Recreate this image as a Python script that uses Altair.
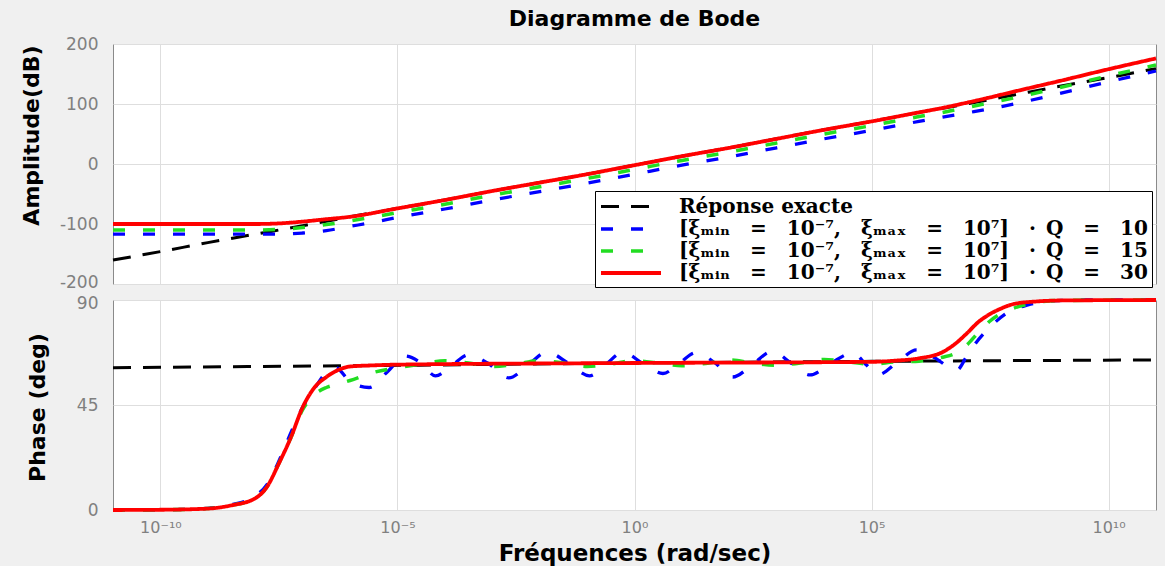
import altair as alt
import pandas as pd

# ---- series -------------------------------------------------------------
EM = "\u2003"
EN = "\u2002"


def approx_label(q):
    return ("[ξₘᵢₙ" + EM + "=" + EM + "10⁻⁷," + EM + "ξₘₐₓ" + EM + "=" + EM + "10⁷]"
            + EM + "·" + EN + "Q" + EM + "=" + EM + q)


SERIES = ["Réponse exacte", approx_label("10"), approx_label("15"), approx_label("30")]
COLORS = ["#000000", "#0000ff", "#22dd22", "#ff0000"]
DASHES = [[18, 12], [12, 18], [12, 18], [1, 0]]
WIDTHS = [3, 3.8, 3.4, 2.8]

# ---- axes ---------------------------------------------------------------
X_DOMAIN = [1e-11, 1e11]
XTICK_EXP = [-10, -5, 0, 5, 10]
XTICK_TEXT = ["10⁻¹⁰", "10⁻⁵", "10⁰", "10⁵", "10¹⁰"]
MAG_TICKS = [-200, -100, 0, 100, 200]
PHASE_TICKS = [0, 45, 90]

# ---- gain (dB) versus log10(frequency in rad/s) --------------------------
exact_mag_lw = [-11, -10, -9, -8, -7, -6, -5, -4, -3, -2, -1, 0,
                1, 2, 3, 4, 5, 6, 7, 8, 9, 10, 11]
exact_mag_db = [-160, -146, -131, -117, -103, -88, -74, -60, -45, -31, -17, -2,
                13, 27, 42, 57, 71, 86, 100, 115, 130, 144, 159]

q10_mag_lw = [-11, -10, -9, -8, -7.5, -7, -6.5, -6, -5.5, -5, -4, -3, -2, -1, 0,
              1, 2, 3, 4, 5, 6, 6.5, 7, 7.5, 8, 9, 10, 11]
q10_mag_db = [-117, -117, -117, -117, -117, -115, -111, -104, -97, -89, -75, -60, -46, -32, -17,
              -2, 12, 27, 42, 56, 71, 78, 85, 92, 100, 118, 137, 155]

q15_mag_lw = [-11, -10, -9, -8, -7.5, -7, -6.5, -6, -5, -4, -3, -2, -1, 0,
              1, 2, 3, 4, 5, 6, 6.5, 7, 7.5, 8, 9, 10, 11]
q15_mag_db = [-110, -110, -110, -110, -109, -106, -101, -95, -81, -67, -52, -38, -24, -9,
              6, 20, 35, 50, 64, 79, 86, 94, 102, 110, 128, 147, 165]

q30_mag_lw = [-11, -10, -9, -8, -7.5, -7, -6.5, -6, -5, -4, -3, -2, -1, 0,
              1, 2, 3, 4, 5, 6, 6.5, 7, 7.5, 8, 9, 10, 11]
q30_mag_db = [-100, -100, -100, -100, -99, -96, -92, -88, -74, -60, -45, -31, -17, -2,
              13, 27, 42, 57, 71, 86, 93.5, 102, 111, 120.5, 139, 158, 176]

# ---- phase (deg) versus log10(frequency in rad/s) ------------------------
exact_ph_lw = [-11, -5, 0, 5, 11]
exact_ph_deg = [61, 62, 63, 63.7, 64.3]

q10_ph_lw = [-11, -10, -9, -8.5, -8, -7.75, -7.5, -7.25, -7, -6.75, -6.5, -6.3, -6.0,
             -5.6, -5.2, -4.85, -4.5, -4.2, -3.85, -3.5, -3.1, -2.65, -2.25, -1.85,
             -1.4, -0.95, -0.6, -0.25, 0.2, 0.6, 0.95, 1.3, 1.7, 2.07, 2.5, 2.9, 3.3,
             3.7, 4.15, 4.6, 4.9, 5.13, 5.55, 5.95, 6.3, 6.8, 7.0, 7.2, 7.5, 7.85,
             8.3, 8.8, 9.5, 11]
q10_ph_deg = [0, 0.1, 0.7, 2.3, 6, 11, 21, 33, 44, 52, 59, 61, 55,
              52.5, 59.5, 66, 63, 57.5, 62, 66.5, 63, 56.6, 62, 67.7,
              63, 57.5, 62.5, 67.5, 62.5, 58.5, 63, 67.5, 63, 57, 62.5, 68, 63,
              57.9, 63, 67.3, 62, 57.9, 63.4, 68.6, 65.6, 60, 65.6, 71.6, 78.4, 84.4,
              87.9, 89.6, 90, 90]

q15_ph_lw = [-11, -10, -9, -8.5, -8, -7.75, -7.5, -7.25, -7, -6.75, -6.5, -6.25, -6,
             -5.5, -5, -4.5, -4, -3.5, -3, -2.5, -2, -1.5, -1, -0.5, 0, 0.5, 1, 1.5,
             2, 2.5, 3, 3.5, 4, 4.5, 5, 5.5, 6, 6.5, 6.75, 7, 7.25, 7.5, 7.75, 8,
             8.25, 8.5, 9, 11]
q15_ph_deg = [0, 0.1, 0.6, 2, 5, 10, 20, 31, 43, 49.5, 52.5, 54, 55.5,
              59, 61, 62.5, 64, 63, 61.5, 62.5, 64, 63, 61.5, 62.5, 64, 63, 61.8, 62.8,
              64.3, 63, 62, 63, 64.5, 63.5, 62.5, 63.5, 63.8, 65.5, 67, 70.5, 76, 81, 84.4, 86.5,
              88, 89, 89.8, 90]

q30_ph_lw = [-11, -10, -9, -8.5, -8, -7.75, -7.5, -7.25, -7, -6.75, -6.5, -6.25, -6,
             -5.5, -5, 0, 5, 5.5, 6, 6.5, 6.75, 7, 7.25, 7.5, 7.75, 8, 8.5, 9, 11]
q30_ph_deg = [0, 0.1, 0.6, 2, 5, 10, 20, 31, 44, 52.5, 57, 60, 61.5,
              62, 62.3, 63, 63.5, 64, 65, 67.7, 71, 75.5, 80.5, 84, 86.5, 88.3, 89.4, 89.8, 90]


def table(pairs, key):
    rows = []
    for name, lw, vals in pairs:
        for e, v in zip(lw, vals):
            rows.append({"serie": name, "w": 10.0 ** e, key: v})
    return pd.DataFrame(rows)


mag_df = table([
    (SERIES[0], exact_mag_lw, exact_mag_db),
    (SERIES[1], q10_mag_lw, q10_mag_db),
    (SERIES[2], q15_mag_lw, q15_mag_db),
    (SERIES[3], q30_mag_lw, q30_mag_db),
], "db")

ph_df = table([
    (SERIES[0], exact_ph_lw, exact_ph_deg),
    (SERIES[1], q10_ph_lw, q10_ph_deg),
    (SERIES[2], q15_ph_lw, q15_ph_deg),
    (SERIES[3], q30_ph_lw, q30_ph_deg),
], "deg")

XTICKS = [10.0 ** e for e in XTICK_EXP]
label_expr = "'" + XTICK_TEXT[-1] + "'"
for e, t in reversed(list(zip(XTICK_EXP[:-1], XTICK_TEXT[:-1]))):
    label_expr = f"datum.value < {10.0 ** (e + 2.5)} ? '{t}' : " + label_expr

xscale = alt.Scale(type="log", domain=X_DOMAIN, nice=False)

# line-sample symbol: a horizontal stroke starting at the entry's left edge
legend = alt.Legend(
    title=None, orient="none", legendX=482, legendY=147,
    symbolType="M-1,0H5", symbolSize=400, symbolStrokeWidth=3,
    labelFont="DejaVu Serif", labelFontSize=20, labelFontWeight="bold",
    labelColor="black", labelLimit=0, labelOffset=56,
    fillColor="white", strokeColor="black", padding=4, rowPadding=0,
)


def style(show_legend):
    lg = legend if show_legend else None
    return dict(
        color=alt.Color("serie:N", scale=alt.Scale(domain=SERIES, range=COLORS),
                        sort=SERIES, legend=lg),
        strokeDash=alt.StrokeDash("serie:N", scale=alt.Scale(domain=SERIES, range=DASHES),
                                  sort=SERIES, legend=lg),
        strokeWidth=alt.StrokeWidth("serie:N", scale=alt.Scale(domain=SERIES, range=WIDTHS),
                                    sort=SERIES, legend=lg),
    )


top = alt.Chart(mag_df).mark_line(interpolate="monotone").encode(
    x=alt.X("w:Q", scale=xscale,
            axis=alt.Axis(values=XTICKS, labels=False, title=None, grid=True)),
    y=alt.Y("db:Q", scale=alt.Scale(domain=[-200, 200], nice=False, zero=False),
            axis=alt.Axis(values=MAG_TICKS, labelExpr="'' + datum.value",
                          labelOffset={"condition": {"test": "datum.value == -200", "value": -2},
                                       "value": 0},
                          title="Amplitude(dB)", labelFlush=False,
                          titleX=-82, titleY=91, titleAngle=270,
                          titleAlign="center", titleBaseline="middle")),
    **style(True),
).properties(
    width=1043, height=240,
    title=alt.TitleParams("Diagramme de Bode", font="DejaVu Sans", fontSize=22,
                          fontWeight="bold", color="black", anchor="middle",
                          frame="group", offset=4),
)

bottom = alt.Chart(ph_df).mark_line(interpolate="monotone").encode(
    x=alt.X("w:Q", scale=xscale,
            axis=alt.Axis(values=XTICKS, labelExpr=label_expr, labelFlush=False,
                          labelFontSize=16, labelPadding=9,
                          title="Fréquences (rad/sec)", titleFontSize=23,
                          titleX=521.5, titleY=43, titleAlign="center",
                          titleBaseline="middle")),
    y=alt.Y("deg:Q", scale=alt.Scale(domain=[0, 90], nice=False, zero=False),
            axis=alt.Axis(values=PHASE_TICKS, title="Phase (deg)", labelFlush=False,
                          labelOffset={"condition": {"test": "datum.value == 90", "value": 3},
                                       "value": 0},
                          titleX=-76, titleY=107, titleAngle=270,
                          titleAlign="center", titleBaseline="middle")),
    **style(False),
).properties(width=1043, height=210)

chart = alt.vconcat(top, bottom, spacing=16, bounds="flush").resolve_legend(
    color="independent", strokeDash="independent", strokeWidth="independent"
).properties(
    padding={"left": 19, "top": 7, "right": 0, "bottom": 0},
    background="#f0f0f0",
).configure_view(
    fill="white", stroke="#8a8a8a", strokeWidth=1,
).configure_axis(
    labelFont="DejaVu Sans", labelFontSize=17, labelColor="#808080",
    labelPadding=15, titleFont="DejaVu Sans", titleFontSize=22,
    titleFontWeight="bold", titleColor="black",
    gridColor="#dedede", gridWidth=1, domain=False, ticks=False,
)

chart.save("out.html", embed_options={"renderer": "svg", "actions": False})
